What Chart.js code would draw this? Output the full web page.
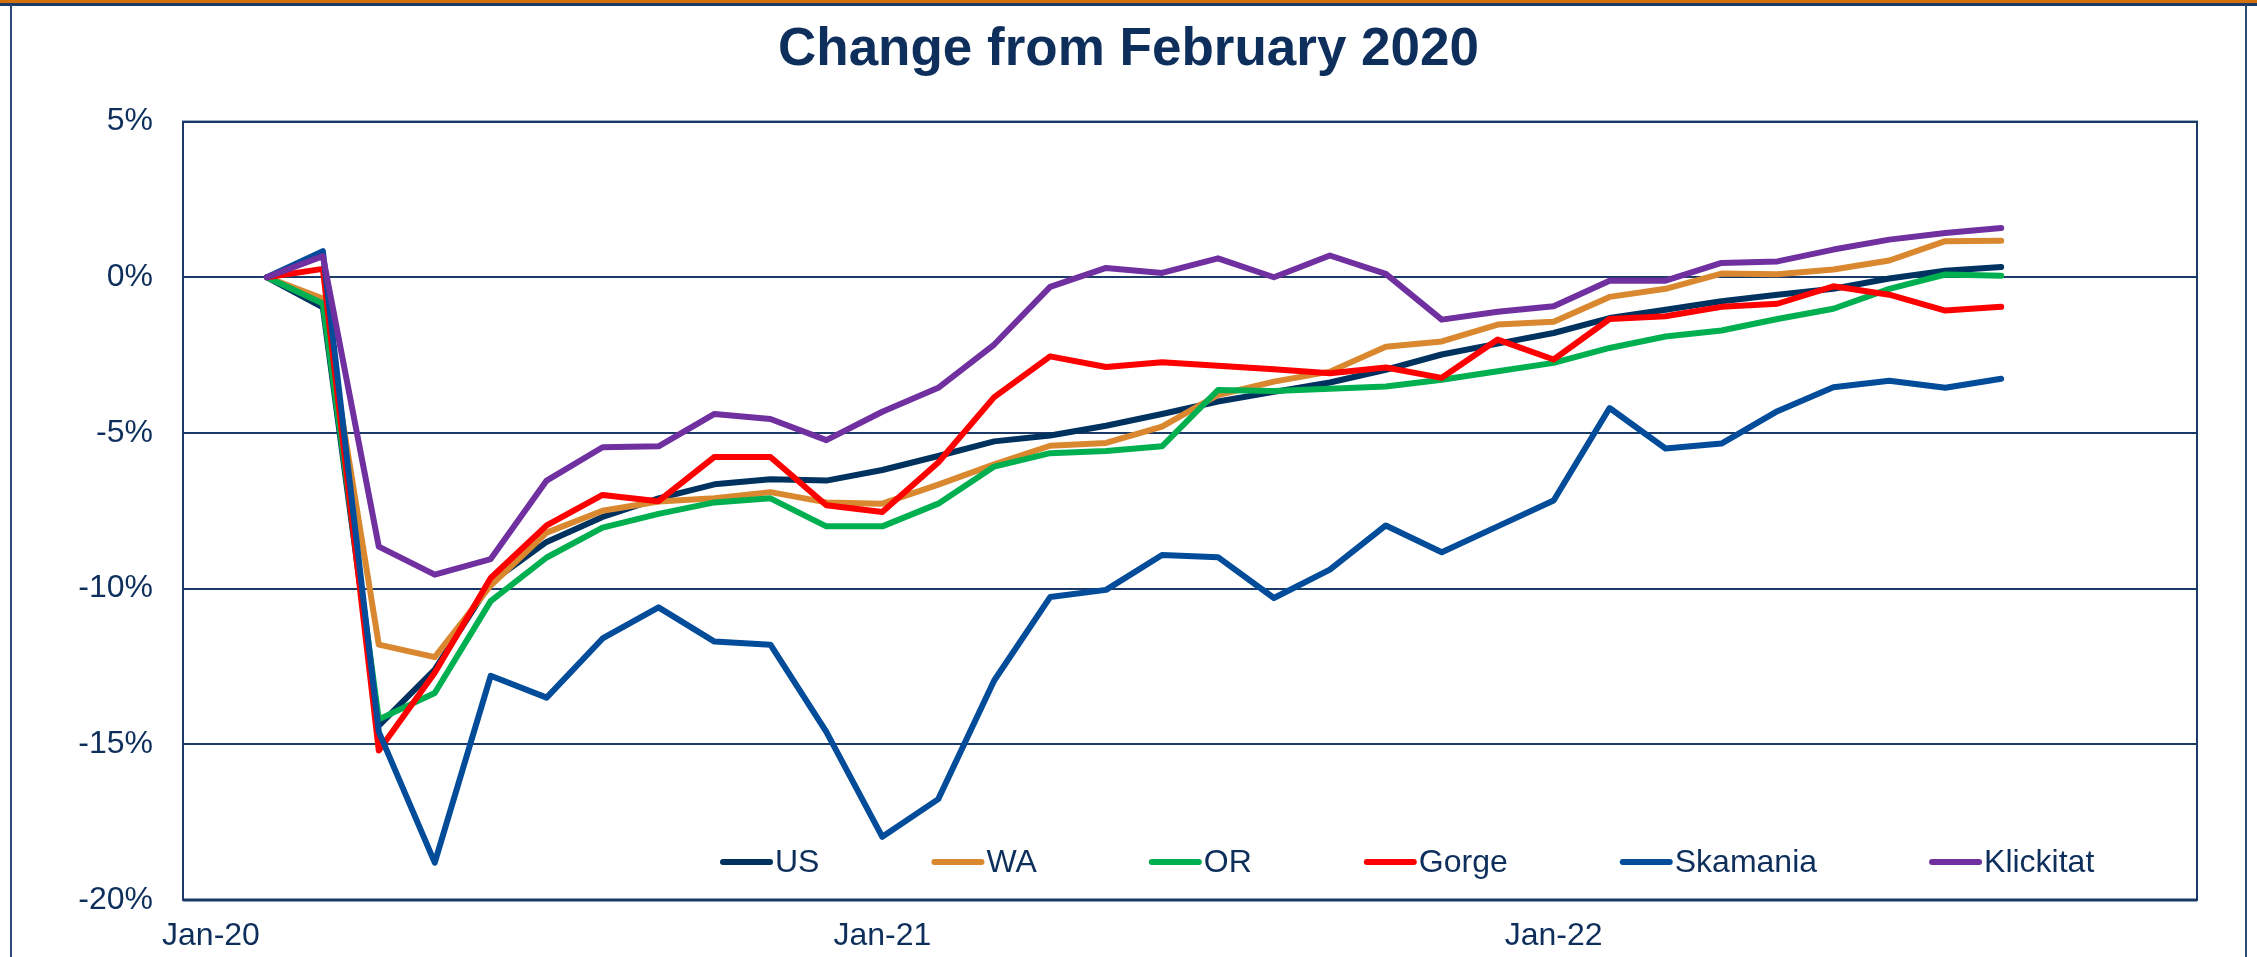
<!DOCTYPE html>
<html>
<head>
<meta charset="utf-8">
<title>Change from February 2020</title>
<script src="https://cdn.jsdelivr.net/npm/chart.js@4.4.1/dist/chart.umd.min.js"></script>
<style>
  html, body { margin: 0; padding: 0; background: #ffffff; }
  #wrap { position: relative; width: 2257px; height: 957px; overflow: hidden; }
  #chart { position: absolute; left: 0; top: 0; }
  .bar-top { position: absolute; left: 0; top: 0; width: 2257px; height: 3px; background: #D2700C; }
  .bar-rule { position: absolute; left: 0; top: 3px; width: 2257px; height: 3px; background: #1F3A68; }
  .side { position: absolute; top: 5px; width: 2px; height: 952px; background: #2A4A78; }
</style>
</head>
<body>
<div id="wrap">
  <canvas id="chart" width="2257" height="957"></canvas>
  <div class="bar-top"></div>
  <div class="bar-rule"></div>
  <div class="side" style="left:10px"></div>
  <div class="side" style="left:2245px"></div>
</div>
<script>
// months on the axis, Jan-20 .. Dec-22
const months = [
  "Jan-20", "Feb-20", "Mar-20", "Apr-20", "May-20", "Jun-20", "Jul-20", "Aug-20", "Sep-20", "Oct-20", "Nov-20", "Dec-20",
  "Jan-21", "Feb-21", "Mar-21", "Apr-21", "May-21", "Jun-21", "Jul-21", "Aug-21", "Sep-21", "Oct-21", "Nov-21", "Dec-21",
  "Jan-22", "Feb-22", "Mar-22", "Apr-22", "May-22", "Jun-22", "Jul-22", "Aug-22", "Sep-22", "Oct-22", "Nov-22", "Dec-22"
];

// % change from February 2020, Feb-20 .. Sep-22
const us = [0, -0.97, -14.4, -12.6, -9.8, -8.5, -7.7, -7.1, -6.65, -6.49, -6.53, -6.19, -5.74, -5.27, -5.08, -4.77,
  -4.39, -3.99, -3.68, -3.38, -2.97, -2.48, -2.13, -1.79, -1.31, -1.04, -0.77, -0.56, -0.37, -0.04, 0.21, 0.33];
const wa = [0, -0.68, -11.8, -12.2, -9.9, -8.2, -7.5, -7.2, -7.1, -6.9, -7.23, -7.27, -6.66, -6.01, -5.41, -5.32,
  -4.8, -3.78, -3.35, -3.03, -2.23, -2.06, -1.52, -1.43, -0.63, -0.37, 0.12, 0.1, 0.25, 0.54, 1.16, 1.17];
const or = [0, -0.84, -14.2, -13.35, -10.4, -9.0, -8.04, -7.6, -7.23, -7.1, -8.0, -8.0, -7.27, -6.08, -5.65, -5.58,
  -5.43, -3.62, -3.65, -3.58, -3.51, -3.29, -3.02, -2.75, -2.27, -1.9, -1.71, -1.34, -1.01, -0.37, 0.09, 0.05];
const gorge = [0, 0.27, -15.2, -12.7, -9.66, -7.97, -6.99, -7.19, -5.77, -5.77, -7.32, -7.54, -5.95, -3.85, -2.54, -2.88,
  -2.73, -2.84, -2.95, -3.08, -2.9, -3.23, -2.0, -2.64, -1.34, -1.25, -0.95, -0.85, -0.29, -0.56, -1.07, -0.95];
const skamania = [0, 0.84, -14.6, -18.8, -12.8, -13.5, -11.6, -10.6, -11.7, -11.8, -14.6, -17.97, -16.76, -12.95, -10.27, -10.04,
  -8.92, -8.99, -10.3, -9.39, -7.97, -8.83, -8.0, -7.17, -4.2, -5.5, -5.34, -4.3, -3.53, -3.32, -3.55, -3.26];
const klickitat = [0, 0.68, -8.65, -9.55, -9.05, -6.53, -5.46, -5.43, -4.39, -4.55, -5.23, -4.32, -3.55, -2.16, -0.31, 0.3,
  0.14, 0.61, 0.0, 0.7, 0.11, -1.36, -1.11, -0.93, -0.11, -0.11, 0.46, 0.51, 0.89, 1.21, 1.42, 1.58];

const seriesNames = ["US", "WA", "OR", "Gorge", "Skamania", "Klickitat"];
const seriesColors = ["#00325F", "#D9882F", "#00B050", "#FF0000", "#034C9A", "#7030A0"];
const yTicks = [5, 0, -5, -10, -15, -20];

const NAVY = "#0E2F5C";
const GRID = "#1B3A68";
const FONT = "'Liberation Sans', Arial, sans-serif";

// pad a Feb-20..Sep-22 series onto the Jan-20..Dec-22 axis
function onAxis(values) {
  return [null, ...values, null, null, null];
}

const allSeries = [us, wa, or, gorge, skamania, klickitat];
const datasets = allSeries.map((values, i) => ({
  label: seriesNames[i],
  data: onAxis(values),
  borderColor: seriesColors[i],
  backgroundColor: seriesColors[i],
  borderWidth: 6,
  borderCapStyle: "round",
  borderJoinStyle: "round",
  pointRadius: 0,
  tension: 0,
  order: allSeries.length - i, // later series on top, like the original
}));

// plot box + legend inside the plot area
const plotExtras = {
  id: "plotExtras",
  beforeDatasetsDraw(chart) {
    const { ctx, chartArea: a } = chart;
    ctx.save();
    ctx.strokeStyle = GRID;
    ctx.lineWidth = 2;
    ctx.strokeRect(a.left, a.top, a.right - a.left, a.bottom - a.top);
    ctx.lineWidth = 3;
    ctx.beginPath();
    ctx.moveTo(a.left, a.bottom);
    ctx.lineTo(a.right, a.bottom);
    ctx.stroke();
    ctx.restore();
  },
  afterDatasetsDraw(chart) {
    const { ctx, chartArea: a } = chart;
    ctx.save();
    ctx.font = "32px " + FONT;
    ctx.textBaseline = "middle";
    let x = a.left + 537;
    const y = a.bottom - 38;
    chart.data.datasets.forEach((ds) => {
      ctx.strokeStyle = ds.borderColor;
      ctx.lineWidth = 6;
      ctx.lineCap = "round";
      ctx.beginPath();
      ctx.moveTo(x + 3, y);
      ctx.lineTo(x + 50, y);
      ctx.stroke();
      ctx.fillStyle = NAVY;
      ctx.fillText(ds.label, x + 55, y + 1);
      x += 55 + ctx.measureText(ds.label).width + 112;
    });
    ctx.restore();
  },
};

new Chart(document.getElementById("chart"), {
  type: "line",
  data: { labels: months, datasets: datasets },
  plugins: [plotExtras],
  options: {
    responsive: false,
    animation: false,
    devicePixelRatio: 1,
    layout: { padding: { left: 60, right: 60, top: 0, bottom: 0 } },
    plugins: {
      legend: { display: false },
      tooltip: { enabled: false },
      title: {
        display: true,
        text: "Change from February 2020",
        color: NAVY,
        font: { family: FONT, size: 53, weight: "bold", lineHeight: 1.2 },
        padding: { top: 19, bottom: 39 },
      },
    },
    scales: {
      x: {
        type: "category",
        offset: true,
        grid: { display: false, drawTicks: false },
        border: { display: false },
        ticks: {
          autoSkip: false,
          maxRotation: 0,
          padding: 17,
          color: NAVY,
          font: { family: FONT, size: 32 },
          callback: function (value) {
            const label = this.getLabelForValue(value);
            return label.startsWith("Jan") ? label : "";
          },
        },
        afterFit(scale) { scale.height = 57; },
      },
      y: {
        min: Math.min(...yTicks),
        max: Math.max(...yTicks),
        afterBuildTicks(scale) { scale.ticks = yTicks.map((v) => ({ value: v })); },
        grid: { color: GRID, lineWidth: 2, drawTicks: false },
        border: { display: false },
        ticks: {
          padding: 30,
          color: NAVY,
          font: { family: FONT, size: 32 },
          callback: (v) => v + "%",
        },
        afterFit(scale) { scale.width = 123; },
      },
    },
  },
});
</script>
</body>
</html>
